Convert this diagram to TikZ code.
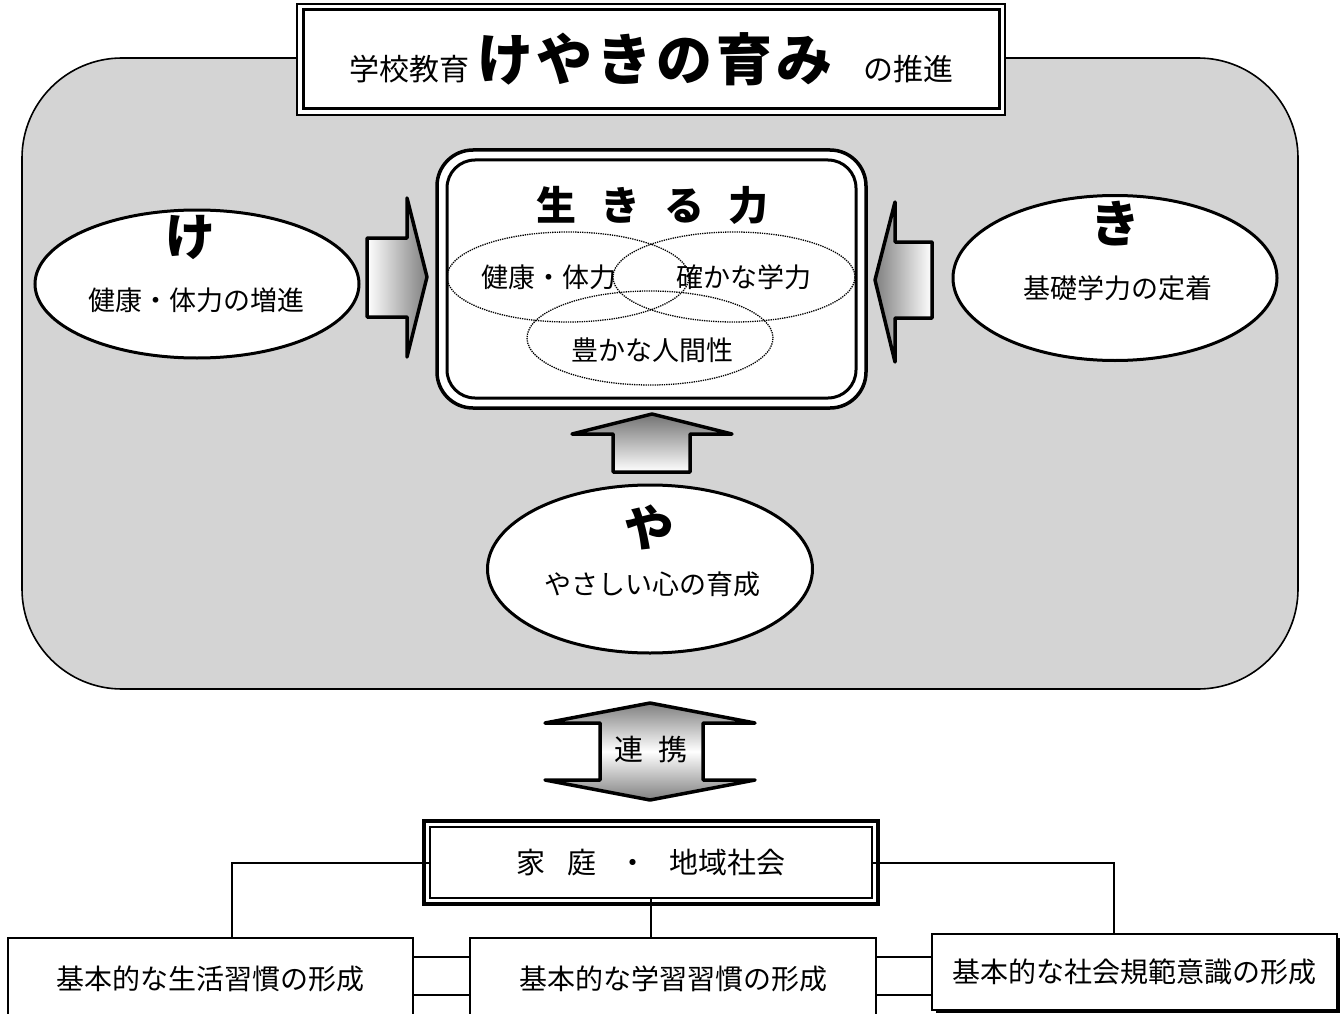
\documentclass[tikz,border=0pt]{standalone}
\usepackage{fontspec}
\setmainfont{Noto Sans CJK JP}
\usetikzlibrary{shapes.geometric,calc}
\definecolor{bgray}{RGB}{212,212,212}
\begin{document}
\begin{tikzpicture}[x=1pt,y=-1pt,
  txt/.style={font=\fontsize{27}{30}\selectfont, inner sep=0},
  kana/.style={font=\fontsize{50}{50}\selectfont\bfseries, inner sep=0},
  bubble/.style={ellipse, draw, line width=3pt, fill=white, inner sep=0},
  venn/.style={ellipse, draw, densely dotted, line width=1.3pt, inner sep=0},
  arr/.style={draw, line width=3.5pt, line join=round},
  plainbox/.style={rectangle, draw, line width=1.4pt, fill=white, inner sep=0, font=\fontsize{28}{30}\selectfont},
  conn/.style={line width=2pt}]
\useasboundingbox (0,0) rectangle (1344,1014);
\clip (0,0) rectangle (1344,1014);
\fill[white] (0,0) rectangle (1344,1014);

% school area
\draw[line width=1.6pt, fill=bgray, rounded corners=100pt] (22,58) rectangle (1298,689);

% title
\draw[line width=1.3pt, fill=white] (297,4) rectangle (1005,115);
\node[rectangle, draw, line width=3pt, fill=white, minimum width=696, minimum height=99, inner sep=0] (title) at (651,59.5)
  {\fontsize{30}{30}\selectfont 学校教育\hspace{8pt}{\fontsize{56}{56}\selectfont\bfseries け\kern4ptや\kern4ptき\kern4ptの\kern4pt育\kern4ptみ}\hspace{30pt}の推進};

% arrows
\path[arr, left color=white, right color=black!50]
  (367,238) -- (407,238) -- (407,198) -- (427,277) -- (407,357) -- (407,317) -- (367,317) -- cycle;
\path[arr, left color=black!50, right color=white]
  (932,242) -- (895,242) -- (895,202) -- (875,280) -- (895,362) -- (895,318) -- (932,318) -- cycle;
\path[arr, top color=black!55, bottom color=white]
  (613,472) -- (613,434) -- (572,434) -- (652,414) -- (732,434) -- (690,434) -- (690,472) -- cycle;

% ikiru box
\draw[line width=3.5pt, fill=white, rounded corners=36pt] (437,150) rectangle (866,408);
\node[rectangle, draw, line width=3pt, rounded corners=28pt, minimum width=409, minimum height=238, inner sep=0] (ikiru) at (651.5,279) {};
\node[font=\fontsize{40}{40}\selectfont\bfseries, inner sep=0] (ikt) at (652,205) {生\hspace{24pt}き\hspace{24pt}る\hspace{24pt}力};

% venn
\node[venn, minimum width=242, minimum height=90] (v1) at (568,277) {};
\node[venn, minimum width=242, minimum height=90] (v2) at (734,277) {};
\node[venn, minimum width=246, minimum height=94] (v3) at (650,338) {};
\node[txt] (v1t) at (549,277) {健康・体力};
\node[txt] (v2t) at (744,277) {確かな学力};
\node[txt] (v3t) at (652,350) {豊かな人間性};

% bubbles
\node[bubble, minimum width=324, minimum height=148] (ke) at (197,284) {};
\node[kana] (ket) at (190,237) {け};
\node[txt] (kex) at (196,300) {健康・体力の増進};
\node[bubble, minimum width=324, minimum height=165] (ki) at (1115,278) {};
\node[kana] (kit) at (1115,224) {き};
\node[txt] (kix) at (1118,288) {基礎学力の定着};
\node[bubble, minimum width=325, minimum height=168] (ya) at (650,569) {};
\node[kana, rotate=-8] (yat) at (649,528) {や};
\node[txt] (yax) at (652,584) {やさしい心の育成};

% renkei double arrow
\path[arr, top color=black!50, bottom color=black!50, middle color=white]
  (600,723) -- (545,723) -- (650,703) -- (755,723) -- (703,723) -- (703,780) -- (755,780) -- (650,800) -- (545,780) -- (600,780) -- cycle;
\node[font=\fontsize{29}{30}\selectfont, inner sep=0] (renkei) at (651,750) {連\hspace{16pt}携};

% family box
\draw[line width=3.2pt, fill=white] (424,821) rectangle (878,904);
\node[rectangle, draw, line width=2.5pt, fill=white, minimum width=442, minimum height=71, inner sep=0, font=\fontsize{29}{30}\selectfont] (fam) at (651,862.5) {家\hspace{22pt}庭\hspace{22pt}・\hspace{22pt}地域社会};

% bottom boxes
\node[plainbox, minimum width=405, minimum height=84] (b1) at (210.5,980) {\raisebox{5pt}{基本的な生活習慣の形成}};
\node[plainbox, minimum width=406, minimum height=84] (b2) at (673,980) {\raisebox{5pt}{基本的な学習習慣の形成}};
\fill[black] (936,938) rectangle (1340,1013);
\node[plainbox, minimum width=405, minimum height=76] (b3) at (1134.5,972) {\raisebox{2pt}{基本的な社会規範意識の形成}};

% connectors
\draw[conn] (fam.west) -| ([xshift=21pt]b1.north);
\draw[conn] (fam.east) -| ([xshift=-21pt]b3.north);
\draw[conn] (fam.south) -- (fam.south |- b2.north);
\draw[conn] ([yshift=23pt]b1.east) -- ([yshift=23pt]b1.east -| b2.west);
\draw[conn] ([yshift=-15pt]b1.east) -- ([yshift=-15pt]b1.east -| b2.west);
\draw[conn] ([yshift=23pt]b2.east) -- ([yshift=23pt]b2.east -| b3.west);
\draw[conn] ([yshift=-15pt]b2.east) -- ([yshift=-15pt]b2.east -| b3.west);
\end{tikzpicture}
\end{document}
